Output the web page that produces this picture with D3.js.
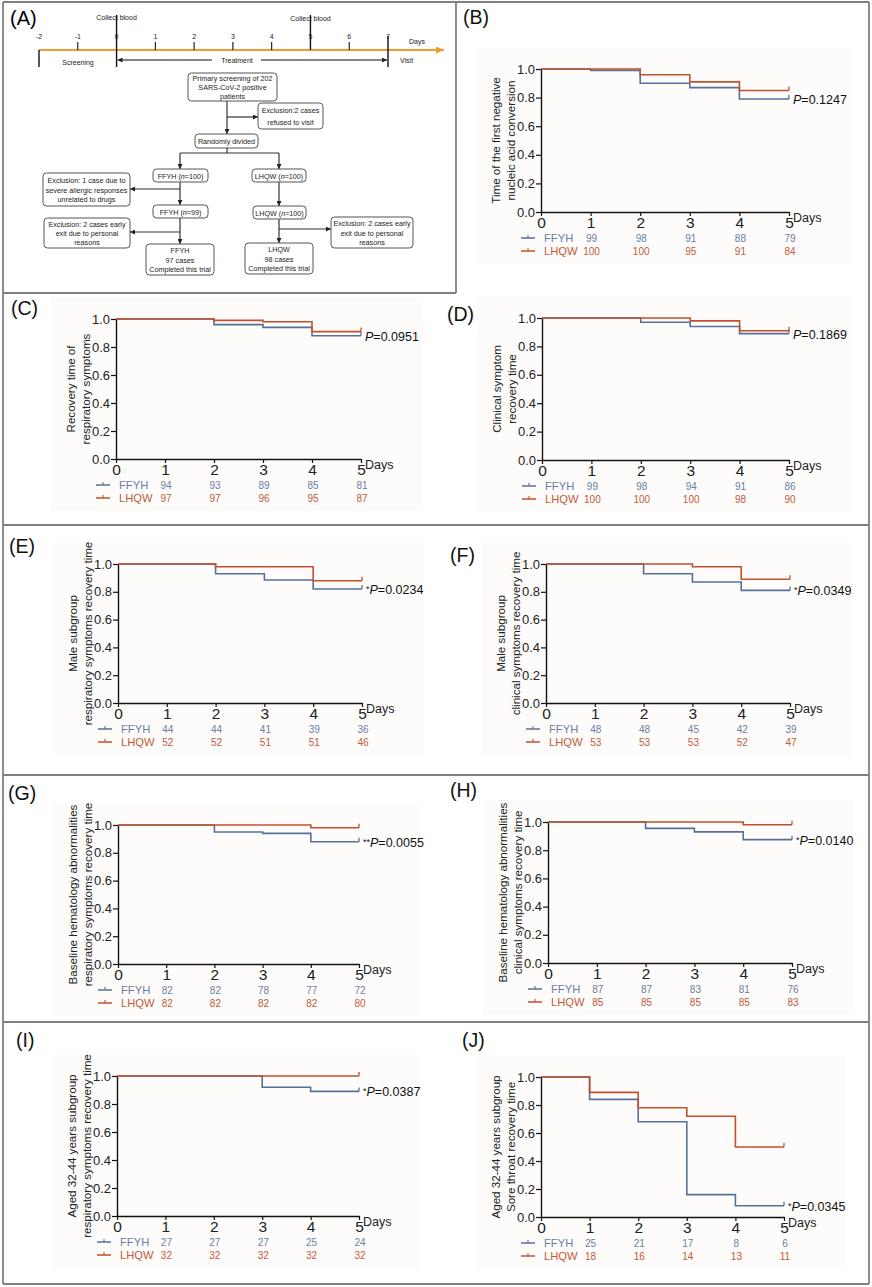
<!DOCTYPE html>
<html><head><meta charset="utf-8">
<script src="https://cdn.jsdelivr.net/npm/d3@7"></script>
<style>
body{margin:0;background:#fff;}
svg{display:block;font-family:"Liberation Sans",Arial,Helvetica,sans-serif;}
</style>
</head><body>
<svg id="c" width="872" height="1287"></svg>
<script>
// ---------------- DATA ----------------
const days = [0, 1, 2, 3, 4, 5];
const riskDays = [1, 2, 3, 4, 5];
const panelIds = ["B", "C", "D", "E", "F", "G", "H", "I", "J"];
const groupNames = ["FFYH", "LHQW"];
const yTickValues = [0, 0.2, 0.4, 0.6, 0.8, 1.0];
const yLabelLine1 = ["Time of the first negative", "Recovery time of", "Clinical symptom", "Male subgroup", "Male subgroup",
  "Baseline hematology abnormalities", "Baseline hematology abnormalities", "Aged 32-44 years subgroup", "Aged 32-44 years subgroup"];
const yLabelLine2 = ["nucleic acid conversion", "respiratory symptoms", "recovery time", "respiratory symptoms recovery time",
  "clinical symptoms recovery time", "respiratory symptoms recovery time", "clinical symptoms recovery time",
  "respiratory symptoms recovery time", "Sore throat recovery time"];
const pStars = ["", "", "", "*", "*", "**", "*", "*", "*"];
const pValues = ["0.1247", "0.0951", "0.1869", "0.0234", "0.0349", "0.0055", "0.0140", "0.0387", "0.0345"];
// survival value on intervals [0,1),[1,2),[2,3),[3,4),[4,5]
const ffyhSurvival = [
  [1, 0.99, 0.90, 0.87, 0.79],
  [1, 1, 0.96, 0.94, 0.88],
  [1, 1, 0.97, 0.94, 0.89],
  [1, 1, 0.93, 0.885, 0.82],
  [1, 1, 0.93, 0.87, 0.81],
  [1, 1, 0.95, 0.94, 0.88],
  [1, 1, 0.955, 0.93, 0.875],
  [1, 1, 1, 0.92, 0.89],
  [1, 0.84, 0.68, 0.16, 0.08]
];
const lhqwSurvival = [
  [1, 1, 0.96, 0.91, 0.85],
  [1, 1, 0.99, 0.98, 0.91],
  [1, 1, 1, 0.98, 0.91],
  [1, 1, 0.98, 0.98, 0.88],
  [1, 1, 1, 0.98, 0.89],
  [1, 1, 1, 1, 0.98],
  [1, 1, 1, 1, 0.98],
  [1, 1, 1, 1, 1],
  [1, 0.89, 0.78, 0.72, 0.50]
];
const ffyhAtRisk = [
  [99, 98, 91, 88, 79], [94, 93, 89, 85, 81], [99, 98, 94, 91, 86], [44, 44, 41, 39, 36], [48, 48, 45, 42, 39],
  [82, 82, 78, 77, 72], [87, 87, 83, 81, 76], [27, 27, 27, 25, 24], [25, 21, 17, 8, 6]
];
const lhqwAtRisk = [
  [100, 100, 95, 91, 84], [97, 97, 96, 95, 87], [100, 100, 100, 98, 90], [52, 52, 51, 51, 46], [53, 53, 53, 52, 47],
  [82, 82, 82, 82, 80], [85, 85, 85, 85, 83], [32, 32, 32, 32, 32], [18, 16, 14, 13, 11]
];
const timelineDays = [-2, -1, 0, 1, 2, 3, 4, 5, 6, 7];

// ---------------- LAYOUT ----------------
const plotLayout = [
  {x0: 541, x5: 789, y1: 69,   y0: 212,  lx: 463, ly: 24},
  {x0: 116, x5: 361, y1: 319,  y0: 459,  lx: 11,  ly: 315},
  {x0: 542, x5: 789, y1: 318,  y0: 460,  lx: 447, ly: 321},
  {x0: 118, x5: 362, y1: 564,  y0: 703,  lx: 9,   ly: 553},
  {x0: 546, x5: 790, y1: 564,  y0: 703,  lx: 450, ly: 562},
  {x0: 118, x5: 359, y1: 825,  y0: 964,  lx: 8,   ly: 800},
  {x0: 548, x5: 792, y1: 822,  y0: 963,  lx: 450, ly: 797},
  {x0: 117, x5: 359, y1: 1076, y0: 1216, lx: 16,  ly: 1047},
  {x0: 541, x5: 784, y1: 1077, y0: 1217, lx: 462, ly: 1047}
];
const colFFYH = "#56709a", colLHQW = "#c4502e";
const txtFFYH = "#6a7ea6", txtLHQW = "#c35a3b";
const borderCol = "#808080";

const svg = d3.select("#c");
const defs = svg.append("defs");
function mk(id, col, w, h) {
  defs.append("marker").attr("id", id).attr("markerUnits", "userSpaceOnUse")
    .attr("markerWidth", w).attr("markerHeight", h).attr("refX", w).attr("refY", h / 2)
    .attr("orient", "auto")
    .append("path").attr("d", `M0,0L${w},${h / 2}L0,${h}Z`).attr("fill", col);
}
mk("arrK", "#222", 5, 5);
mk("arrO", "#f59a2c", 8, 7);

// ---------------- BORDERS ----------------
const bg = svg.append("g").attr("stroke", borderCol).attr("stroke-width", 1.8).attr("fill", "none");
[[3, 2, 869, 2], [3, 2, 3, 1284], [869, 2, 869, 1284], [456, 2, 456, 293], [3, 293, 456, 293],
 [3, 525, 869, 525], [3, 775, 869, 775], [3, 1022, 869, 1022], [3, 1284, 869, 1284]]
  .forEach(l => bg.append("line").attr("x1", l[0]).attr("y1", l[1]).attr("x2", l[2]).attr("y2", l[3]));

// ---------------- PANEL A ----------------
const A = svg.append("g");
A.append("text").attr("x", 10).attr("y", 25).attr("font-size", 20).text("(A)");
const tx = d3.scaleLinear().domain([-2, 7]).range([39, 388]);
const tlY = 50;
A.append("line").attr("x1", tx(-2)).attr("x2", 444).attr("y1", tlY).attr("y2", tlY)
  .attr("stroke", "#f59a2c").attr("stroke-width", 2).attr("marker-end", "url(#arrO)");
const tlG = A.append("g").attr("font-size", 7).attr("fill", "#222");
timelineDays.forEach(d => {
  let top = tlY - 8, bot = tlY;
  if (d === -2) { top = tlY; bot = 67; }
  if (d === 0) { top = 15; bot = 67; }
  if (d === 5) { top = 15; bot = tlY; }
  if (d === 7) { top = 36; bot = 67; }
  A.append("line").attr("x1", tx(d)).attr("x2", tx(d)).attr("y1", top).attr("y2", bot)
    .attr("stroke", "#111").attr("stroke-width", d === -2 || d === 0 || d === 7 || d === 5 ? 1.4 : 1.1);
  tlG.append("text").attr("x", tx(d)).attr("y", 39).attr("text-anchor", "middle").text(d);
});
tlG.append("text").attr("x", tx(0)).attr("y", 20).attr("text-anchor", "middle")
  .attr("stroke", "#fff").attr("stroke-width", 2).text("Collect blood");
tlG.append("text").attr("x", tx(0)).attr("y", 20).attr("text-anchor", "middle").text("Collect blood");
tlG.append("text").attr("x", tx(5)).attr("y", 21).attr("text-anchor", "middle").attr("stroke", "#fff").attr("stroke-width", 2).text("Collect blood");
tlG.append("text").attr("x", tx(5)).attr("y", 21).attr("text-anchor", "middle").text("Collect blood");
tlG.append("text").attr("x", 409).attr("y", 44).text("Days");
tlG.append("text").attr("x", 400).attr("y", 63).text("Visit");
tlG.append("text").attr("x", 78).attr("y", 65).attr("text-anchor", "middle").text("Screening");
tlG.append("text").attr("x", 237).attr("y", 63).attr("text-anchor", "middle").text("Treatment");
A.append("line").attr("x1", 212).attr("x2", tx(0) + 1).attr("y1", 60).attr("y2", 60)
  .attr("stroke", "#111").attr("stroke-width", 1.2).attr("marker-end", "url(#arrK)");
A.append("line").attr("x1", 261).attr("x2", tx(7) - 1).attr("y1", 60).attr("y2", 60)
  .attr("stroke", "#111").attr("stroke-width", 1.2).attr("marker-end", "url(#arrK)");

// flowchart
const boxes = [
  {x: 188, y: 73, w: 89, h: 28, lh: 9, lines: ["Primary screening of 202", "SARS-CoV-2 positive", "patients"]},
  {x: 258, y: 103, w: 65, h: 26, lh: 11.5, lines: ["Exclusion:2 cases", "refused to visit"]},
  {x: 195, y: 134, w: 63, h: 14, lh: 9, lines: ["Randomly divided"]},
  {x: 153, y: 169, w: 55, h: 13, lh: 9, lines: ["FFYH (|n|=100)"]},
  {x: 252, y: 169, w: 54, h: 13, lh: 9, lines: ["LHQW (|n|=100)"]},
  {x: 43, y: 173, w: 87, h: 33, lh: 9.6, lines: ["Exclusion: 1 case due to", "severe allergic responses", "unrelated to drugs"]},
  {x: 153, y: 205, w: 55, h: 13, lh: 9, lines: ["FFYH (|n|=99)"]},
  {x: 253, y: 206, w: 53, h: 13, lh: 9, lines: ["LHQW (|n|=100)"]},
  {x: 44, y: 218, w: 86, h: 30, lh: 9.3, lines: ["Exclusion: 2 cases early", "exit due to personal", "reasons"]},
  {x: 331, y: 217, w: 82, h: 31, lh: 9.3, lines: ["Exclusion: 2 cases early", "exit due to personal", "reasons"]},
  {x: 146, y: 244, w: 68, h: 31, lh: 9.3, lines: ["FFYH", "97 cases", "Completed this trial"]},
  {x: 245, y: 243, w: 68, h: 31, lh: 9.3, lines: ["LHQW", "98 cases", "Completed this trial"]}
];
const connectors = [
  {pts: [[227, 101], [227, 134]], arrow: true},
  {pts: [[227, 117], [258, 117]], arrow: true},
  {pts: [[227, 148], [227, 153]], arrow: false},
  {pts: [[180, 153], [279, 153]], arrow: false},
  {pts: [[180, 153], [180, 169]], arrow: true},
  {pts: [[279, 153], [279, 169]], arrow: true},
  {pts: [[180, 182], [180, 205]], arrow: true},
  {pts: [[180, 189], [130, 189]], arrow: true},
  {pts: [[180, 218], [180, 244]], arrow: true},
  {pts: [[180, 232], [130, 232]], arrow: true},
  {pts: [[279, 182], [279, 206]], arrow: true},
  {pts: [[279, 219], [279, 243]], arrow: true},
  {pts: [[279, 229], [331, 229]], arrow: true}
];
const fc = A.append("g");
connectors.forEach(c => {
  fc.append("path").attr("d", d3.line()(c.pts)).attr("stroke", "#333").attr("stroke-width", 1.2)
    .attr("fill", "none").attr("marker-end", c.arrow ? "url(#arrK)" : null);
});
boxes.forEach(b => {
  fc.append("rect").attr("x", b.x).attr("y", b.y).attr("width", b.w).attr("height", b.h)
    .attr("rx", 3.5).attr("fill", "#fff").attr("stroke", "#555").attr("stroke-width", 1);
  const cy = b.y + b.h / 2, n = b.lines.length;
  b.lines.forEach((ln, i) => {
    const t = fc.append("text").attr("x", b.x + b.w / 2).attr("y", cy + (i - (n - 1) / 2) * b.lh)
      .attr("dominant-baseline", "central").attr("text-anchor", "middle").attr("font-size", 7.2).attr("fill", "#222");
    ln.split("|").forEach((part, k) => {
      t.append("tspan").attr("font-style", k === 1 ? "italic" : null).text(part);
    });
  });
});

// ---------------- KM PANELS ----------------
panelIds.forEach((id, p) => {
  const L = plotLayout[p];
  const g = svg.append("g");
  const x = d3.scaleLinear().domain([0, 5]).range([L.x0, L.x5]);
  const y = d3.scaleLinear().domain([0, 1]).range([L.y0, L.y1]);

  g.append("rect").attr("x", L.x0 - 65).attr("y", L.y1 - 22).attr("width", L.x5 - L.x0 + 127)
    .attr("height", L.y0 - L.y1 + 74).attr("fill", "#fdfcfa");

  g.append("text").attr("x", L.lx).attr("y", L.ly).attr("font-size", 19.5).attr("fill", "#111").text(`(${id})`);

  // axes
  const ya = g.append("g").attr("transform", `translate(${L.x0},0)`)
    .call(d3.axisLeft(y).tickValues(yTickValues).tickFormat(d3.format(".1f")).tickSize(5).tickSizeOuter(0).tickPadding(1));
  ya.select(".domain").attr("stroke", "#111").attr("stroke-width", 1.4);
  ya.selectAll(".tick line").attr("stroke", "#111").attr("stroke-width", 1.2);
  ya.selectAll(".tick text").attr("font-size", 13).attr("fill", "#222");

  const xa = g.append("g").attr("transform", `translate(0,${L.y0})`)
    .call(d3.axisBottom(x).tickValues(days).tickFormat(d3.format("d")).tickSize(4).tickSizeOuter(0).tickPadding(1));
  xa.select(".domain").attr("stroke", "#111").attr("stroke-width", 1.4);
  xa.selectAll(".tick line").attr("stroke", "#111").attr("stroke-width", 1.2);
  xa.selectAll(".tick text").attr("font-size", 15.5).attr("fill", "#222");
  ya.attr("font-family", null); xa.attr("font-family", null);

  g.append("text").attr("x", L.x5 + 4).attr("y", L.y0 + 6).attr("dominant-baseline", "central")
    .attr("font-size", 12.5).attr("fill", "#222").text("Days");

  // y label
  const cy = (L.y0 + L.y1) / 2;
  [[yLabelLine1[p], L.x0 - 46], [yLabelLine2[p], L.x0 - 31]].forEach(([t, xx]) => {
    g.append("text").attr("transform", `translate(${xx},${cy}) rotate(-90)`)
      .attr("text-anchor", "middle").attr("dominant-baseline", "central")
      .attr("font-size", 11.6).attr("fill", "#222").text(t);
  });

  // curves
  const line = d3.line().x(d => x(d[0])).y(d => y(d[1])).curve(d3.curveStepAfter);
  [[ffyhSurvival[p], colFFYH], [lhqwSurvival[p], colLHQW]].forEach(([s, col]) => {
    const pts = days.map(d => [d, s[Math.min(d, 4)]]);
    g.append("path").attr("d", line(pts)).attr("fill", "none").attr("stroke", col).attr("stroke-width", 1.6);
    g.append("line").attr("x1", x(5)).attr("x2", x(5)).attr("y1", y(s[4])).attr("y2", y(s[4]) - 4)
      .attr("stroke", col).attr("stroke-width", 1.3);
  });

  // P label
  const pt = g.append("text").attr("x", L.x5 + 4).attr("y", y(ffyhSurvival[p][4]) + 1)
    .attr("dominant-baseline", "central").attr("font-size", 12.5).attr("fill", "#111");
  if (pStars[p]) pt.append("tspan").attr("font-size", 9).attr("dy", -1).text(pStars[p]);
  pt.append("tspan").attr("font-style", "italic").attr("dy", pStars[p] ? 1 : 0).text("P");
  pt.append("tspan").text("=" + pValues[p]);

  // at-risk table
  [[ffyhAtRisk[p], colFFYH, txtFFYH, 26], [lhqwAtRisk[p], colLHQW, txtLHQW, 39]].forEach(([vals, col, tcol, dy], gi) => {
    const ry = L.y0 + dy;
    g.append("line").attr("x1", L.x0 - 20).attr("x2", L.x0 - 6).attr("y1", ry).attr("y2", ry)
      .attr("stroke", col).attr("stroke-width", 1.5);
    g.append("line").attr("x1", L.x0 - 13).attr("x2", L.x0 - 13).attr("y1", ry).attr("y2", ry - 3)
      .attr("stroke", col).attr("stroke-width", 1.1);
    g.append("text").attr("x", L.x0 + 3).attr("y", ry).attr("dominant-baseline", "central")
      .attr("font-size", 11.2).attr("fill", tcol).text(groupNames[gi]);
    riskDays.forEach((d, i) => {
      g.append("text").attr("x", x(d) + 1).attr("y", ry).attr("dominant-baseline", "central")
        .attr("text-anchor", "middle").attr("font-size", 10).attr("fill", tcol).text(vals[i]);
    });
  });
});
</script>
</body></html>
